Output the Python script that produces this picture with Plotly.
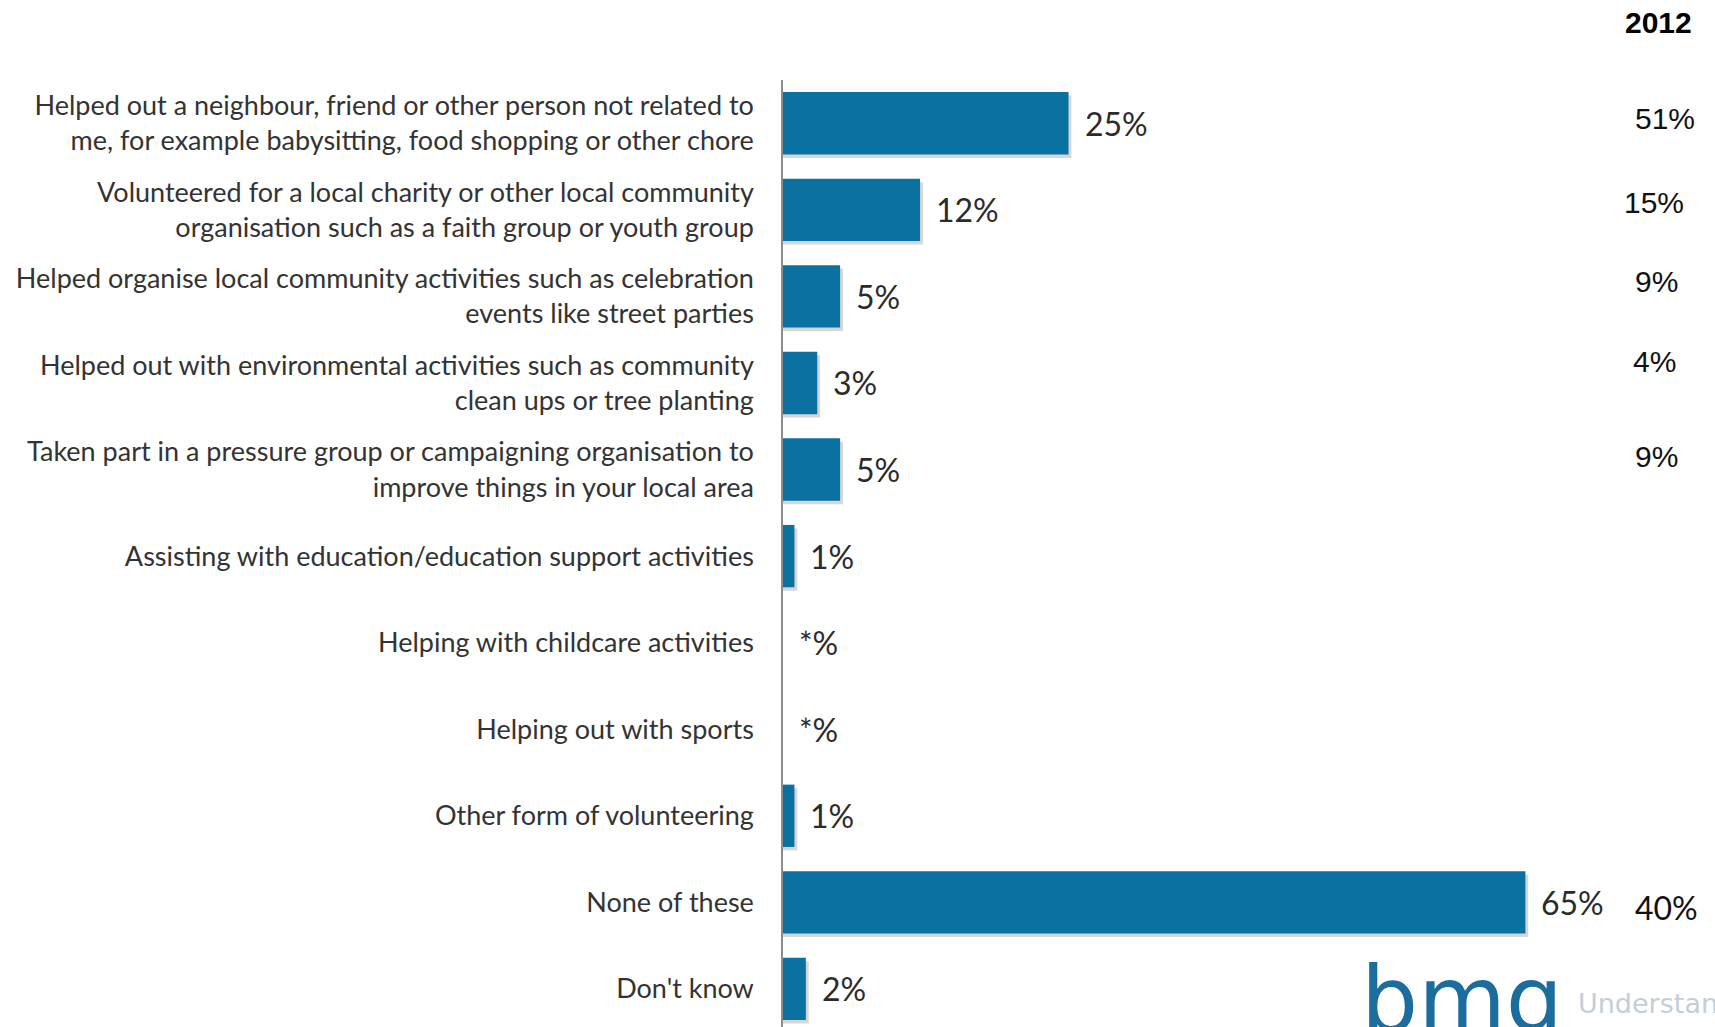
import plotly.graph_objects as go

# Survey answers, top to bottom
categories = [
    "Helped out a neighbour, friend or other person not related to<br>me, for example babysitting, food shopping or other chore",
    "Volunteered for a local charity or other local community<br>organisation such as a faith group or youth group",
    "Helped organise local community activities such as celebration<br>events like street parties",
    "Helped out with environmental activities such as community<br>clean ups or tree planting",
    "Taken part in a pressure group or campaigning organisation to<br>improve things in your local area",
    "Assisting with education/education support activities",
    "Helping with childcare activities",
    "Helping out with sports",
    "Other form of volunteering",
    "None of these",
    "Don't know",
]
# Current share (%); "*" marks a value below 0.5%
values = [25, 12, 5, 3, 5, 1, 0, 0, 1, 65, 2]
value_labels = ["25%", "12%", "5%", "3%", "5%", "1%", "*%", "*%", "1%", "65%", "2%"]
# 2012 comparison column
labels_2012 = ["51%", "15%", "9%", "4%", "9%", None, None, None, None, "40%", None]
header_2012 = "2012"

BAR = "#0b71a1"
TEXT = "#2b2b2b"
LABEL_FONT = "Lato"

fig = go.Figure()

# soft drop shadow under each non-empty bar
fig.add_trace(go.Bar(
    y=categories,
    x=[v + 0.25 if v > 0 else 0 for v in values],
    orientation="h",
    width=0.72,
    offset=-0.32,
    marker=dict(color="rgba(70,70,70,0.22)", line=dict(width=0)),
    hoverinfo="skip",
    showlegend=False,
))
fig.add_trace(go.Bar(
    y=categories,
    x=values,
    orientation="h",
    width=0.72,
    marker=dict(color=BAR, line=dict(width=0)),
    showlegend=False,
))

annotations = []
for cat, v, lab in zip(categories, values, value_labels):
    annotations.append(dict(
        x=v, y=cat, xref="x", yref="y", text=lab, showarrow=False,
        xanchor="left", yanchor="middle", xshift=14,
        font=dict(family=LABEL_FONT, size=32, color=TEXT),
    ))

# 2012 column sits in the right margin of the plot area
nudges_y = [5, 7, 15, 21, 13, 0, 0, 0, 0, -5, 0]
nudges_x = [0, -11, 0, -2, 0, 0, 0, 0, 0, 0, 0]
for i, (cat, lab) in enumerate(zip(categories, labels_2012)):
    if lab is None:
        continue
    fam = LABEL_FONT if i == 9 else "Liberation Sans, Arial"
    size = 32 if i == 9 else 30
    annotations.append(dict(
        x=0.912, y=cat, xref="paper", yref="y", text=lab, showarrow=False,
        xanchor="left", yanchor="middle", yshift=nudges_y[i], xshift=nudges_x[i],
        font=dict(family=fam, size=size, color="#111111"),
    ))
annotations.append(dict(
    x=0.939, y=1.061, xref="paper", yref="paper", text="<b>" + header_2012 + "</b>",
    showarrow=False, xanchor="center", yanchor="middle",
    font=dict(family="Liberation Sans, Arial", size=30, color="#000000"),
))

# brand mark in the lower right corner
annotations.append(dict(
    x=0.618, y=0.0, xref="paper", yref="paper", text="bmg", showarrow=False,
    xanchor="left", yanchor="top", yshift=82,
    font=dict(family="DejaVu Sans", size=90, color="#1b6d9e"),
))
annotations.append(dict(
    x=0.851, y=0.0, xref="paper", yref="paper", text="Understanding", showarrow=False,
    xanchor="left", yanchor="bottom", yshift=6,
    font=dict(family="DejaVu Sans", size=27, color="#c3ced6"),
))

fig.update_layout(
    width=1715, height=1027,
    margin=dict(l=783, r=0, t=80, b=0),
    paper_bgcolor="white", plot_bgcolor="white",
    barmode="overlay",
    bargap=0.28,
    annotations=annotations,
    xaxis=dict(range=[0, 81.6], visible=False, fixedrange=True),
    yaxis=dict(
        type="category",
        categoryorder="array", categoryarray=categories,
        range=[10.44, -0.5],
        showline=True, linecolor="#8c8c8c", linewidth=1.5,
        showgrid=False, zeroline=False, ticks="",
        ticklabelstandoff=22,
        tickfont=dict(family=LABEL_FONT, size=27, color="#333333"),
    ),
)

fig.write_html("out.html")
